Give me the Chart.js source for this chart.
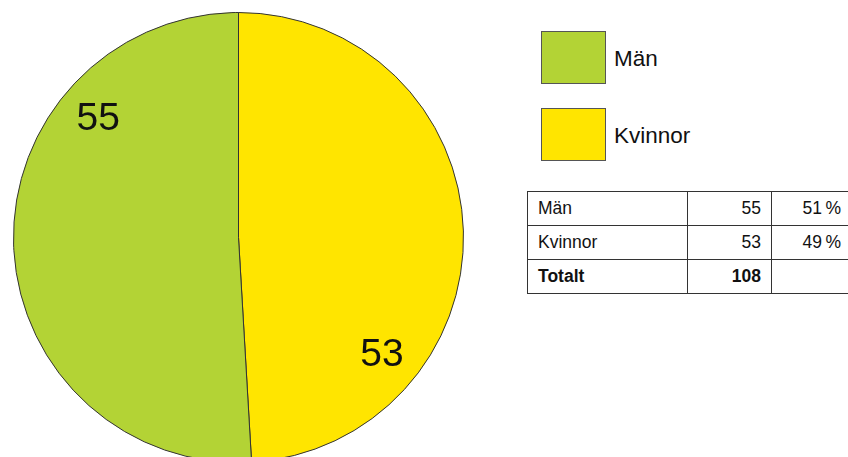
<!DOCTYPE html>
<html lang="sv">
<head>
<meta charset="utf-8">
<script src="https://cdn.jsdelivr.net/npm/chart.js@4/dist/chart.umd.min.js"></script>
<style>
  html, body { margin: 0; padding: 0; background: #fff; overflow: hidden; }
  body { width: 848px; height: 457px; position: relative; font-family: "Liberation Sans", Arial, sans-serif; color: #111; }
  #pieBox { position: absolute; left: 13px; top: 12px; width: 451px; height: 451px; }
  #legend { position: absolute; left: 541px; top: 31px; }
  .leg-item { display: flex; align-items: center; height: 52px; margin-bottom: 25px; }
  .leg-box { width: 63px; height: 51px; border: 1px solid #555; box-sizing: content-box; }
  .leg-text { margin-left: 8px; font-size: 22.5px; padding-top: 4px; white-space: nowrap; }
  #summary { position: absolute; left: 527px; top: 191px; width: 340px; table-layout: fixed;
             border-collapse: collapse; font-size: 17.5px; }
  #summary td { border: 1px solid #333; height: 34px; padding: 0 10px; box-sizing: border-box; white-space: nowrap; }
  #summary td.name { width: 160px; text-align: left; }
  #summary td.num { width: 84px; text-align: right; }
  #summary td.pct { width: 96px; text-align: right; padding-right: 26px; }
  #summary tr.total td { font-weight: bold; }
</style>
</head>
<body>
<div id="pieBox"><canvas id="pie"></canvas></div>
<div id="legend"></div>
<table id="summary"></table>
<script>
const categories = ['Män', 'Kvinnor'];
const counts = [55, 53];
const sliceColors = ['#b3d335', '#ffe500'];
const totalLabel = 'Totalt';

const total = counts.reduce((a, b) => a + b, 0);

// legend
const legend = document.getElementById('legend');
categories.forEach((name, i) => {
  const item = document.createElement('div');
  item.className = 'leg-item';
  item.innerHTML = `<div class="leg-box" style="background:${sliceColors[i]}"></div><div class="leg-text">${name}</div>`;
  legend.appendChild(item);
});

// summary table
const table = document.getElementById('summary');
categories.forEach((name, i) => {
  const row = table.insertRow();
  row.innerHTML = `<td class="name">${name}</td><td class="num">${counts[i]}</td>` +
    `<td class="pct">${Math.round(counts[i] / total * 100)}\u2009%</td>`;
});
const totalRow = table.insertRow();
totalRow.className = 'total';
totalRow.innerHTML = `<td class="name">${totalLabel}</td><td class="num">${total}</td><td class="pct"></td>`;

// numbers inside the slices
const sliceLabels = {
  id: 'sliceLabels',
  afterDatasetsDraw(chart) {
    const ctx = chart.ctx;
    const meta = chart.getDatasetMeta(0);
    ctx.save();
    ctx.font = '39px "Liberation Sans", Arial, sans-serif';
    ctx.fillStyle = '#111';
    ctx.textAlign = 'center';
    ctx.textBaseline = 'middle';
    meta.data.forEach((arc, i) => {
      const p = arc.getProps(['x', 'y', 'startAngle', 'endAngle', 'outerRadius'], true);
      const a = p.startAngle + (p.endAngle - p.startAngle) * 0.73;
      const r = p.outerRadius * 0.82;
      ctx.fillText(String(chart.data.datasets[0].data[i]), p.x + Math.cos(a) * r, p.y + Math.sin(a) * r + 2);
    });
    ctx.restore();
  }
};

// pie runs clockwise from the top, Kvinnor first
const order = [1, 0];
new Chart(document.getElementById('pie'), {
  type: 'pie',
  data: {
    labels: order.map(i => categories[i]),
    datasets: [{
      data: order.map(i => counts[i]),
      backgroundColor: order.map(i => sliceColors[i]),
      borderColor: '#333',
      borderWidth: 1
    }]
  },
  options: {
    responsive: true,
    maintainAspectRatio: false,
    animation: false,
    layout: { padding: 0 },
    plugins: { legend: { display: false }, tooltip: { enabled: false } }
  },
  plugins: [sliceLabels]
});
</script>
</body>
</html>
